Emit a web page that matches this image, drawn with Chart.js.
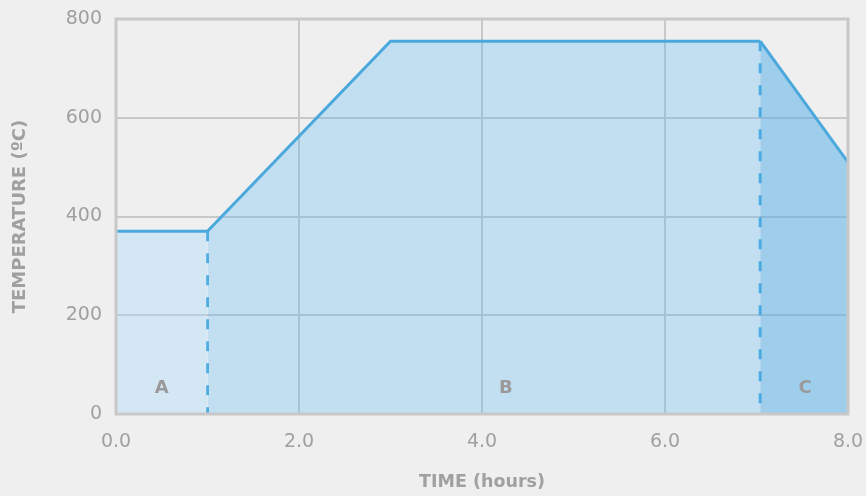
<!DOCTYPE html>
<html>
<head>
<meta charset="utf-8">
<script src="https://cdn.jsdelivr.net/npm/chart.js@4"></script>
<style>
  html, body { margin: 0; padding: 0; background: #efefef; }
  #wrap { width: 866px; height: 496px; }
</style>
</head>
<body>
<div id="wrap"><canvas id="tempChart" width="866" height="496"></canvas></div>
<script>
// data
const phaseA = [{x: 0, y: 370}, {x: 1, y: 370}];
const phaseB = [{x: 1, y: 370}, {x: 3, y: 755}, {x: 7.04, y: 755}];
const phaseC = [{x: 7.04, y: 755}, {x: 8, y: 510}];
const dividerA = [{x: 1, y: 370}, {x: 1, y: 0}];
const dividerC = [{x: 7.04, y: 755}, {x: 7.04, y: 0}];
const regionNames = ['A', 'B', 'C'];
const regionX = [0.5, 4.26, 7.53];
const regionY = 52;

//color
const lineBlue = '#4aa8dc';
const fillA = 'rgba(163, 217, 254, 0.35)';
const fillB = 'rgba(90, 187, 247, 0.3)';
const fillC = 'rgba(78, 174, 232, 0.5)';
const gridGray = '#c8c8c8';
const textGray = '#a0a0a0';
const fontName = 'DejaVu Sans';

const area = (data, color) => ({
    data: data,
    borderColor: lineBlue,
    borderWidth: 3,
    backgroundColor: color,
    fill: 'origin',
    pointRadius: 0,
    tension: 0,
});

const divider = (data) => ({
    data: data,
    borderColor: lineBlue,
    borderWidth: 3,
    borderDash: [10, 12],
    borderCapStyle: 'butt',
    fill: false,
    pointRadius: 0,
});

const frame = {
    id: 'frame',
    afterDatasetsDraw(chart) {
        const { ctx, chartArea: { left, top, right, bottom }, scales: { x, y } } = chart;
        ctx.save();
        ctx.strokeStyle = gridGray;
        ctx.lineWidth = 3;
        ctx.strokeRect(left, top, right - left, bottom - top);
        ctx.font = `bold 18px "${fontName}"`;
        ctx.fillStyle = '#9a9a9a';
        ctx.textAlign = 'center';
        ctx.textBaseline = 'middle';
        regionNames.forEach((name, i) => {
            ctx.fillText(name, x.getPixelForValue(regionX[i]), y.getPixelForValue(regionY));
        });
        ctx.restore();
    }
};

const ctx = document.getElementById('tempChart');

const tempChart = new Chart(ctx, {
    type: 'line',
    data: {
        datasets: [
            area(phaseA, fillA),
            area(phaseB, fillB),
            area(phaseC, fillC),
            divider(dividerA),
            divider(dividerC),
        ]
    },
    options: {
        responsive: false,
        animation: false,
        layout: { padding: { top: 19, right: 18, left: 0, bottom: 0 } },
        plugins: {
            legend: { display: false },
            tooltip: { enabled: false },
        },
        scales: {
            x: {
                type: 'linear',
                min: 0,
                max: 8,
                afterFit(scale) {
                    scale.height = 82;
                    scale.paddingLeft = 0;
                    scale.paddingRight = 0;
                },
                ticks: {
                    stepSize: 2,
                    padding: 17,
                    color: textGray,
                    font: { family: fontName, size: 19 },
                    callback: (v) => v.toFixed(1),
                },
                grid: { color: gridGray, lineWidth: 2, drawTicks: false },
                border: { display: false },
                title: {
                    display: true,
                    text: 'TIME (hours)',
                    color: textGray,
                    font: { family: fontName, size: 17.5, weight: 'bold' },
                    padding: { top: 0, bottom: 3 },
                },
            },
            y: {
                min: 0,
                max: 800,
                afterFit(scale) {
                    scale.width = 116;
                    scale.paddingTop = 0;
                    scale.paddingBottom = 0;
                },
                ticks: {
                    stepSize: 200,
                    padding: 14,
                    color: textGray,
                    font: { family: fontName, size: 19 },
                },
                grid: { color: gridGray, lineWidth: 2, drawTicks: false },
                border: { display: false },
                title: {
                    display: true,
                    text: 'TEMPERATURE (ºC)',
                    color: textGray,
                    font: { family: fontName, size: 18, weight: 'bold' },
                    padding: { top: 10, bottom: 0 },
                },
            },
        },
    },
    plugins: [frame],
});
</script>
</body>
</html>
